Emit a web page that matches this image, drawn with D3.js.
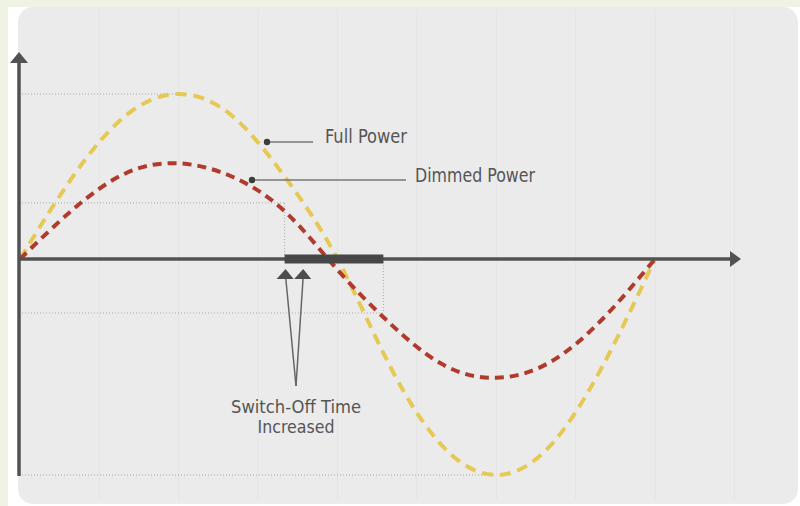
<!DOCTYPE html>
<html>
<head>
<meta charset="utf-8">
<script src="https://cdn.jsdelivr.net/npm/d3@7"></script>
<style>
  body { margin: 0; background: #eff3e4; }
  svg { display: block; }
  text { font-family: "Liberation Sans Narrow", "DejaVu Sans Condensed", sans-serif; fill: #555; }
</style>
</head>
<body>
<div id="chart"></div>
<script>
// phase angle in degrees
const phase = [0, 30, 60, 90, 120, 150, 180, 210, 240, 270, 300, 330, 360]
// normalised voltage
const fullPower = [0, 0.5, 0.87, 1, 0.87, 0.5, 0, -0.5, -0.87, -1, -0.87, -0.5, 0]
const dimmedPower = [0, 0.3, 0.52, 0.58, 0.5, 0.29, -0.05, -0.3, -0.49, -0.55, -0.48, -0.28, 0]

// switch-on thresholds
const thresholdHigh = 0.34
const thresholdLow = -0.25
// switch-off window (degrees)
const offStart = 150
const offEnd = 206
const offArrows = [150, 160]

const labels = ['Full Power', 'Dimmed Power']
const noteLines = ['Switch-Off Time', 'Increased']

let width = 800
let height = 506

let svg = d3.select('#chart')
  .append('svg')
  .attr('width', width)
  .attr('height', height)

svg.append('rect')
  .attr('x', 8).attr('y', 7)
  .attr('width', width - 8).attr('height', height - 7)
  .attr('fill', '#fff')

svg.append('rect')
  .attr('x', 18).attr('y', 7)
  .attr('width', 780).attr('height', 497)
  .attr('rx', 15)
  .attr('fill', '#ebebeb')

let x = d3.scaleLinear().domain([0, 360]).range([20, 655])
// the picture draws the negative half a bit taller than the positive one
let y = d3.scaleLinear().domain([-1, 0, 1]).range([475, 259, 94])

// faint background grid
svg.append('g')
  .selectAll('line')
  .data(d3.range(45, 406, 45))
  .enter().append('line')
  .attr('x1', d => x(d)).attr('x2', d => x(d))
  .attr('y1', 10).attr('y2', 500)
  .attr('stroke', '#e4e4e4')
  .attr('stroke-width', 1)

// dotted guide lines
let guides = [
  [0, 90, 1, 1],
  [0, offStart, thresholdHigh, thresholdHigh],
  [0, offEnd, thresholdLow, thresholdLow],
  [0, 270, -1, -1],
  [offStart, offStart, thresholdHigh, 0],
  [offEnd, offEnd, 0, thresholdLow]
]
svg.append('g')
  .selectAll('line')
  .data(guides)
  .enter().append('line')
  .attr('x1', d => x(d[0]) + (d[0] === 0 ? 2 : 0))
  .attr('x2', d => x(d[1]))
  .attr('y1', d => y(d[2]))
  .attr('y2', d => y(d[3]))
  .attr('stroke', '#a8a8a8')
  .attr('stroke-width', 1)
  .attr('stroke-dasharray', '1,2')

let line = d3.line()
  .x(d => x(d[0]))
  .y(d => y(d[1]))
  .curve(d3.curveNatural)

svg.append('path')
  .datum(phase.map((p, i) => [p, fullPower[i]]))
  .attr('d', line)
  .attr('fill', 'none')
  .attr('stroke', '#e6c955')
  .attr('stroke-width', 4)
  .attr('stroke-dasharray', '11,7')

svg.append('path')
  .datum(phase.map((p, i) => [p, dimmedPower[i]]))
  .attr('d', line)
  .attr('fill', 'none')
  .attr('stroke', '#b03b2d')
  .attr('stroke-width', 4)
  .attr('stroke-dasharray', '9,6')

// axes
let axisColor = '#525252'
svg.append('line')
  .attr('x1', 18).attr('x2', 731)
  .attr('y1', y(0)).attr('y2', y(0))
  .attr('stroke', axisColor).attr('stroke-width', 3.5)
svg.append('path')
  .attr('d', `M730,${y(0) - 8}L741,${y(0)}L730,${y(0) + 8}Z`)
  .attr('fill', axisColor)

svg.append('line')
  .attr('x1', 19).attr('x2', 19)
  .attr('y1', 476).attr('y2', 62)
  .attr('stroke', axisColor).attr('stroke-width', 3.5)
svg.append('path')
  .attr('d', 'M10,63L19,52L28,63Z')
  .attr('fill', axisColor)

// switch-off bar
svg.append('rect')
  .attr('x', x(offStart))
  .attr('y', y(0) - 4.5)
  .attr('width', x(offEnd) - x(offStart))
  .attr('height', 9)
  .attr('fill', '#474747')

let noteX = 296
let noteY = 386
svg.append('g')
  .selectAll('line')
  .data(offArrows)
  .enter().append('line')
  .attr('x1', d => x(d) + 1).attr('x2', noteX)
  .attr('y1', 276).attr('y2', noteY)
  .attr('stroke', '#666').attr('stroke-width', 1.5)

svg.append('g')
  .selectAll('path')
  .data(offArrows)
  .enter().append('path')
  .attr('d', d => `M${x(d) - 8},279L${x(d) + 1},269L${x(d) + 9},279Z`)
  .attr('fill', '#4d4d4d')

let noteWidths = [130, 77]
svg.append('g')
  .selectAll('text')
  .data(noteLines)
  .enter().append('text')
  .attr('x', noteX)
  .attr('y', (d, i) => 413 + i * 20)
  .attr('text-anchor', 'middle')
  .attr('font-size', 18)
  .attr('textLength', (d, i) => noteWidths[i])
  .attr('lengthAdjust', 'spacingAndGlyphs')
  .text(d => d)

// leader labels
let leaders = [
  { label: labels[0], px: 267, py: 142, lx: 313, tx: 325, ty: 143, w: 82 },
  { label: labels[1], px: 252, py: 180, lx: 406, tx: 415, ty: 182, w: 120 }
]
let lg = svg.append('g')
lg.selectAll('line')
  .data(leaders)
  .enter().append('line')
  .attr('x1', d => d.px).attr('x2', d => d.lx)
  .attr('y1', d => d.py).attr('y2', d => d.py)
  .attr('stroke', '#777').attr('stroke-width', 1.5)
lg.selectAll('circle')
  .data(leaders)
  .enter().append('circle')
  .attr('cx', d => d.px).attr('cy', d => d.py)
  .attr('r', 3.2)
  .attr('fill', '#3d3d3d')
lg.selectAll('text')
  .data(leaders)
  .enter().append('text')
  .attr('x', d => d.tx).attr('y', d => d.ty)
  .attr('font-size', 19)
  .attr('textLength', d => d.w)
  .attr('lengthAdjust', 'spacingAndGlyphs')
  .text(d => d.label)
</script>
</body>
</html>
